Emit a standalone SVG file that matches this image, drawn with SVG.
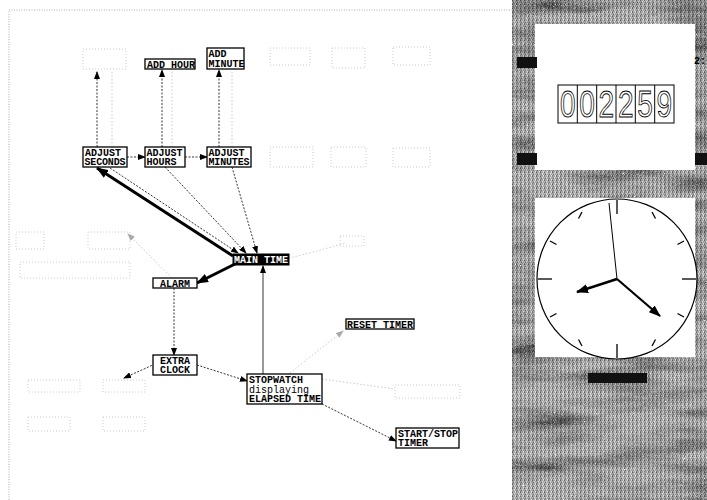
<svg xmlns="http://www.w3.org/2000/svg" width="707" height="500" viewBox="0 0 707 500">
<style>
.box{fill:#fff;stroke:#000;stroke-width:1.3}
.ghost{fill:none;stroke:#cccccc;stroke-width:1;stroke-dasharray:1 2}
.t{font-family:"Liberation Mono",monospace;font-size:10px;font-weight:bold;fill:#000}
.tr{font-family:"Liberation Mono",monospace;font-size:10px;fill:#000}
.c{fill:none;stroke:#000;stroke-width:0.8;stroke-dasharray:2 1.5}
.cs{fill:none;stroke:#000;stroke-width:0.8}
.cf{fill:none;stroke:#bbb;stroke-width:0.8;stroke-dasharray:1.5 2}
.thick{fill:none;stroke:#000;stroke-width:3}
.tick{stroke:#000;stroke-width:1.3}
</style>
<defs>
<marker id="ah" markerWidth="8" markerHeight="6" refX="7" refY="3" orient="auto" markerUnits="userSpaceOnUse"><path d="M0,0 L8,3 L0,6 Z" fill="#000"/></marker>
<marker id="ahg" markerWidth="8" markerHeight="6" refX="7" refY="3" orient="auto" markerUnits="userSpaceOnUse"><path d="M0,0 L8,3 L0,6 Z" fill="#aaa"/></marker>
<marker id="ahb" markerWidth="12" markerHeight="9" refX="11" refY="4.5" orient="auto" markerUnits="userSpaceOnUse"><path d="M0,0 L12,4.5 L0,9 Z" fill="#000"/></marker>
<pattern id="dither" width="4" height="4" patternUnits="userSpaceOnUse">
<rect width="4" height="4" fill="#a4a4a4"/>
<rect x="0" y="0" width="1" height="1" fill="#5e5e5e"/>
<rect x="2" y="1" width="1" height="1" fill="#d8d8d8"/>
<rect x="1" y="2" width="1" height="1" fill="#6a6a6a"/>
<rect x="3" y="3" width="1" height="1" fill="#e0e0e0"/>
<rect x="3" y="0" width="1" height="1" fill="#cfcfcf"/>
<rect x="0" y="3" width="1" height="1" fill="#7a7a7a"/>
<rect x="2" y="2" width="1" height="1" fill="#c2c2c2"/>
</pattern>
<filter id="noise" x="0" y="0" width="100%" height="100%">
<feTurbulence type="fractalNoise" baseFrequency="0.012 0.07" numOctaves="3" seed="4" result="low"/>
<feColorMatrix in="low" type="matrix" values="0 0 0 0 0  0 0 0 0 0  0 0 0 0 0  0 0 0 -1.6 1.0" result="lowA"/>
<feTurbulence type="turbulence" baseFrequency="0.9" numOctaves="1" seed="7" result="fine"/>
<feColorMatrix in="fine" type="matrix" values="0 0 0 0 1  0 0 0 0 1  0 0 0 0 1  1.2 0 0 0 -0.3" result="fineA"/>
<feComposite in="fineA" in2="SourceGraphic" operator="in" result="f2"/>
<feMerge><feMergeNode in="SourceGraphic"/><feMergeNode in="lowA"/><feMergeNode in="f2"/></feMerge>
</filter>
</defs>
<rect width="707" height="500" fill="#fff"/>
<!-- left panel border -->
<path d="M9,500 V10 H512" fill="none" stroke="#aaa" stroke-width="1" stroke-dasharray="1 1.5"/>

<!-- right panel -->
<g id="right-panel">
<rect x="512" y="0" width="195" height="500" fill="url(#dither)" filter="url(#noise)"/>
<rect x="535" y="24" width="160" height="146" fill="#fff"/>
<rect x="517" y="57" width="20" height="11" fill="#111"/>
<rect x="517" y="153" width="20" height="12" fill="#111"/>
<rect x="695" y="153" width="12" height="12" fill="#111"/>
<text x="694" y="64" class="t" font-size="9">2:</text>
<g id="digits">
<rect x="558" y="85" width="116" height="38" fill="#fff" stroke="#000" stroke-width="1"/>
<path d="M577.3,85V123M596.7,85V123M616,85V123M635.3,85V123M654.7,85V123" stroke="#000" stroke-width="1"/>
<g font-family="Liberation Sans Narrow,Liberation Sans,sans-serif" font-size="28" fill="#fff" stroke="#000" stroke-width="0.7" text-anchor="middle" transform="translate(0,104) scale(1,1.3) translate(0,-104)">
<text x="567.7" y="114">0</text><text x="587" y="114">0</text><text x="606.3" y="114">2</text><text x="625.7" y="114">2</text><text x="645" y="114">5</text><text x="664.3" y="114">9</text>
</g>
</g>
<rect x="535" y="198" width="160" height="159" fill="#fff"/>
<g id="clock">
<circle cx="617" cy="279" r="80" fill="#fff" stroke="#000" stroke-width="1.2"/>
<line x1="617" y1="200" x2="617" y2="214" class="tick"/>
<line x1="617" y1="344" x2="617" y2="358" class="tick"/>
<line x1="538" y1="279" x2="552" y2="279" class="tick"/>
<line x1="682" y1="279" x2="696" y2="279" class="tick"/>
<line x1="652" y1="212" x2="655.5" y2="218.5" class="tick"/>
<line x1="684" y1="241" x2="677.5" y2="244.5" class="tick"/>
<line x1="684" y1="317" x2="677.5" y2="313.5" class="tick"/>
<line x1="652" y1="346" x2="655.5" y2="339.5" class="tick"/>
<line x1="582" y1="346" x2="578.5" y2="339.5" class="tick"/>
<line x1="550" y1="317" x2="556.5" y2="313.5" class="tick"/>
<line x1="550" y1="241" x2="556.5" y2="244.5" class="tick"/>
<line x1="582" y1="212" x2="578.5" y2="218.5" class="tick"/>
<line x1="617" y1="279" x2="609" y2="203" stroke="#000" stroke-width="1"/>
<line x1="617" y1="279" x2="577" y2="292" stroke="#000" stroke-width="2.6" marker-end="url(#ahb)"/>
<line x1="617" y1="279" x2="660" y2="316" stroke="#000" stroke-width="2.2" marker-end="url(#ahb)"/>
</g>
<rect x="588" y="373" width="59" height="10" fill="#111"/>
</g>

<!-- faint ghost nodes -->
<g id="ghosts">
<rect x="83" y="49" width="43" height="20" class="ghost"/>
<rect x="270" y="48" width="40" height="17" class="ghost"/>
<rect x="332" y="48" width="33" height="20" class="ghost"/>
<rect x="393" y="47" width="37" height="18" class="ghost"/>
<rect x="270" y="147" width="43" height="20" class="ghost"/>
<rect x="331" y="147" width="35" height="20" class="ghost"/>
<rect x="393" y="148" width="37" height="19" class="ghost"/>
<rect x="16" y="232" width="28" height="17" class="ghost"/>
<rect x="88" y="232" width="42" height="17" class="ghost"/>
<rect x="20" y="262" width="110" height="16" class="ghost"/>
<rect x="28" y="380" width="52" height="12" class="ghost"/>
<rect x="103" y="380" width="42" height="12" class="ghost"/>
<rect x="28" y="417" width="42" height="14" class="ghost"/>
<rect x="103" y="417" width="42" height="14" class="ghost"/>
<rect x="395" y="385" width="65" height="13" class="ghost"/>
<rect x="340" y="236" width="24" height="10" class="ghost"/>
</g>

<!-- connectors -->
<g id="connectors">
<line x1="97" y1="147" x2="97" y2="72" class="c" marker-end="url(#ah)"/>
<line x1="112" y1="147" x2="112" y2="72" class="cf"/>
<line x1="162" y1="147" x2="162" y2="70" class="c" marker-end="url(#ah)"/>
<line x1="172" y1="147" x2="172" y2="70" class="cf"/>
<line x1="219" y1="147" x2="219" y2="70" class="c" marker-end="url(#ah)"/>
<line x1="232" y1="147" x2="232" y2="70" class="cf"/>
<line x1="127" y1="157" x2="145" y2="157" class="c" marker-end="url(#ah)"/>
<line x1="185" y1="157" x2="207" y2="157" class="c" marker-end="url(#ah)"/>
<line x1="233" y1="256" x2="97" y2="168" class="thick" marker-end="url(#ahb)"/>
<line x1="110" y1="168" x2="238" y2="253" class="c" marker-end="url(#ah)"/>
<line x1="165" y1="167" x2="246" y2="253" class="c" marker-end="url(#ah)"/>
<line x1="232" y1="167" x2="257" y2="253" class="c" marker-end="url(#ah)"/>
<line x1="235" y1="264" x2="197" y2="283" class="thick" marker-end="url(#ahb)"/>
<path d="M289,258 Q315,252 345,243" class="cf" stroke="#999"/>
<line x1="172" y1="278" x2="128" y2="234" class="cf" marker-end="url(#ahg)"/>
<line x1="174" y1="288" x2="174" y2="355" class="c" marker-end="url(#ah)"/>
<line x1="155" y1="364" x2="124" y2="378" class="c" marker-end="url(#ah)"/>
<line x1="197" y1="365" x2="247" y2="381" class="c" marker-end="url(#ah)"/>
<line x1="263" y1="374" x2="263" y2="266" class="cs" marker-end="url(#ah)"/>
<line x1="290" y1="373" x2="343" y2="331" class="cf" marker-end="url(#ahg)"/>
<line x1="322" y1="379" x2="395" y2="389" class="cf"/>
<line x1="322" y1="404" x2="396" y2="441" class="c" marker-end="url(#ah)"/>
</g>

<!-- nodes -->
<g id="add-hour"><rect x="145" y="59" width="50" height="10" class="box"/><text x="147" y="67.5" class="t">ADD HOUR</text></g>
<g id="add-minute"><rect x="207" y="48" width="37" height="21" class="box"/><text x="208.5" y="57" class="t">ADD</text><text x="208.5" y="67" class="t">MINUTE</text></g>
<g id="adjust-seconds"><rect x="83" y="147" width="44" height="20" class="box"/><text x="85" y="155.5" class="t">ADJUST</text><text x="84.5" y="165" class="t" textLength="41">SECONDS</text></g>
<g id="adjust-hours"><rect x="145" y="147" width="40" height="20" class="box"/><text x="146.5" y="155.5" class="t">ADJUST</text><text x="146.5" y="165" class="t">HOURS</text></g>
<g id="adjust-minutes"><rect x="207" y="147" width="44" height="20" class="box"/><text x="208.5" y="155.5" class="t">ADJUST</text><text x="208.5" y="165" class="t" textLength="41">MINUTES</text></g>
<g id="main-time"><rect x="233" y="254" width="56" height="11" fill="#000" stroke="#000"/><text x="261" y="262.5" class="t" style="fill:#fff" text-anchor="middle">MAIN TIME</text></g>
<g id="alarm"><rect x="153" y="278" width="44" height="10" class="box"/><text x="175" y="286.5" class="t" text-anchor="middle">ALARM</text></g>
<g id="extra-clock"><rect x="153" y="355" width="44" height="20" class="box"/><text x="175" y="363.5" class="t" text-anchor="middle">EXTRA</text><text x="175" y="373" class="t" text-anchor="middle">CLOCK</text></g>
<g id="stopwatch"><rect x="247" y="374" width="75" height="30" class="box"/><text x="249" y="382.5" class="t">STOPWATCH</text><text x="249" y="392.5" class="tr">displaying</text><text x="249" y="402" class="t">ELAPSED TIME</text></g>
<g id="reset-timer"><rect x="346" y="319" width="68" height="10" class="box"/><text x="380" y="327.5" class="t" text-anchor="middle">RESET TIMER</text></g>
<g id="start-stop"><rect x="396" y="428" width="63" height="20" class="box"/><text x="398" y="436.5" class="t">START/STOP</text><text x="398" y="446" class="t">TIMER</text></g>
</svg>
